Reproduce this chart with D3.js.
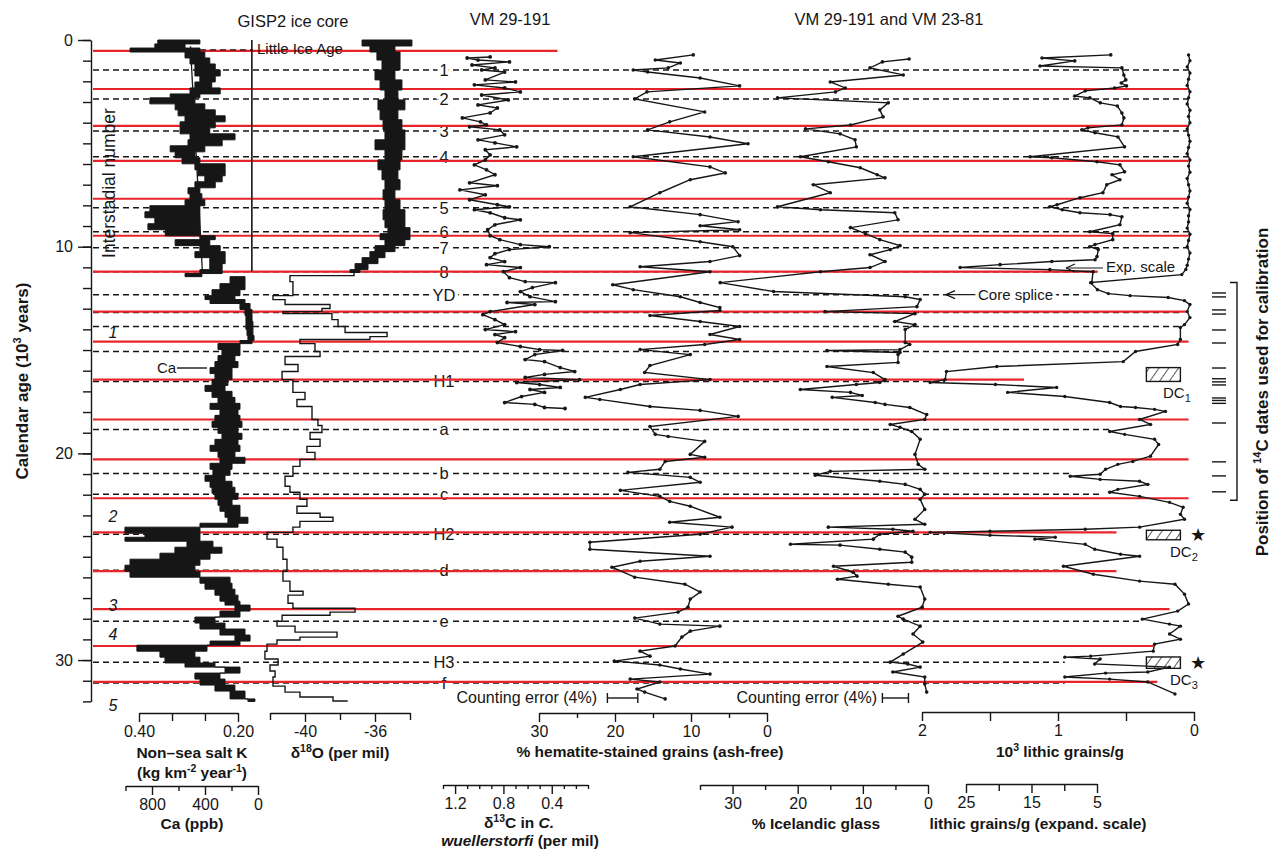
<!DOCTYPE html>
<html>
<head>
<meta charset="utf-8">
<script src="https://cdn.jsdelivr.net/npm/d3@7"></script>
<style>
  body { margin: 0; background: #fff; }
  svg { font-family: "Liberation Sans", Arial, Helvetica, sans-serif; }
</style>
</head>
<body>
<div id="wrapper"></div>
<script>
// ---------- data (ages in 10^3 years) ----------
// horizontal marker lines
const redAges = [0.53, 2.37, 4.15, 5.85, 7.68, 9.47, 11.21, 13.14, 14.59, 16.43, 18.36, 20.29, 22.17, 23.82, 25.70, 27.54, 29.32, 31.06];
const redEnd  = [4.68, 0.04, 0.04, 0.04, 0.04, 0.04, 0.71, 0.06, 0.04, 1.25, 0.04, 0.04, 0.04, 0.57, 0.57, 0.18, 0.30, 0.27]; // in 10^3 lithic grains/g
const dashAges   = [1.45, 2.85, 4.40, 5.65, 8.12, 9.28, 10.05, 11.21, 12.32, 13.19, 13.86, 15.07, 16.52, 18.84, 20.97, 21.98, 23.91, 25.65, 28.12, 30.10, 31.11];
const dashLabels = ["1", "2", "3", "4", "5", "6", "7", "8", "YD", "", "", "", "H1", "a", "b", "c", "H2", "d", "e", "H3", "f"];
const dashEnd    = [0.04, 0.04, 0.04, 0.04, 0.04, 0.04, 0.04, 0.71, 0.76, 0.10, 0.08, 0.45, 1.83, 0.62, 0.91, 0.69, 1.83, 0.96, 0.40, 0.95, 0.95];
const isLabels = ["1", "2", "3", "4", "5"];
const isAges   = [14.2, 23.1, 27.4, 28.8, 32.2];
const c14Ages  = [12.24, 12.43, 13.06, 13.26, 14.03, 14.66, 15.87, 16.39, 16.54, 16.69, 17.32, 17.44, 17.58, 18.53, 20.41, 21.09, 21.86];

// GISP2 non-sea salt K, Holocene  [age, left, right]
const kBand = [[0.0,0.362,0.277],[0.19,0.368,0.307],[0.39,0.418,0.277],[0.58,0.307,0.267],[0.87,0.297,0.257],[1.16,0.287,0.246],[1.45,0.287,0.236],[1.74,0.277,0.246],[2.03,0.287,0.253],[2.32,0.297,0.236],[2.61,0.337,0.277],[2.80,0.378,0.287],[3.09,0.327,0.267],[3.38,0.321,0.246],[3.67,0.307,0.226],[3.96,0.317,0.246],[4.25,0.317,0.257],[4.54,0.297,0.206],[4.83,0.301,0.232],[5.12,0.337,0.267],[5.41,0.327,0.287],[5.70,0.313,0.277],[5.99,0.287,0.226],[6.28,0.281,0.226],[6.57,0.267,0.232],[6.86,0.287,0.246],[7.15,0.301,0.277],[7.44,0.297,0.273],[7.73,0.307,0.267],[8.02,0.378,0.277],[8.31,0.388,0.277],[8.60,0.368,0.277],[8.89,0.382,0.277],[9.18,0.347,0.277],[9.47,0.277,0.246],[9.66,0.327,0.257],[9.95,0.277,0.236],[10.24,0.287,0.226],[10.53,0.257,0.226],[10.82,0.257,0.232],[11.11,0.277,0.232],[11.30,0.307,0.273],[11.45,0.307,0.273]];
const kTrend = [[0.3, 0.296], [11.2, 0.272]];
const kFrame = [[0.0, 0.172], [11.2, 0.172]];
// GISP2 Ca (ppb), glacial  [age, left, right]
const caBand = [[11.45,211,98],[11.79,287,98],[12.08,347,136],[12.37,400,174],[12.56,362,98],[12.75,136,60],[13.04,98,45],[13.33,91,45],[13.62,91,38],[14.01,83,38],[14.30,76,30],[14.54,136,45],[14.69,302,136],[14.98,272,136],[15.27,302,174],[15.56,325,151],[15.85,362,196],[16.14,325,196],[16.43,347,227],[16.71,400,249],[17.00,347,196],[17.29,302,174],[17.58,362,136],[17.87,287,151],[18.16,325,136],[18.45,347,121],[18.74,302,151],[19.03,272,121],[19.32,325,151],[19.61,362,136],[19.90,302,174],[20.19,287,98],[20.48,362,196],[20.77,340,211],[21.06,400,249],[21.35,362,196],[21.64,347,174],[21.93,325,151],[22.22,302,196],[22.51,287,136],[22.80,249,136],[23.09,227,76],[23.38,438,151],[23.57,1004,438],[23.86,853,438],[24.06,1004,438],[24.25,536,340],[24.54,627,272],[24.83,740,362],[25.12,966,438],[25.41,1004,476],[25.70,966,438],[25.99,438,211],[26.28,400,196],[26.57,325,174],[26.86,287,151],[27.15,249,136],[27.34,174,60],[27.63,287,136],[27.92,476,325],[28.21,438,249],[28.50,287,98],[28.79,174,60],[29.08,362,136],[29.28,914,385],[29.57,740,476],[29.86,702,438],[30.14,551,325],[30.34,249,136],[30.63,476,287],[30.92,438,249],[31.21,325,174],[31.50,211,98],[31.88,76,23],[32.0,45,23]];

// GISP2 d18O (per mil): Holocene band [age, left, right] and glacial steps [age, value]
const o18Band = [[0.0,-36.74,-33.89],[0.29,-36.29,-34.86],[0.58,-35.89,-34.57],[0.97,-35.6,-34.57],[1.45,-36.0,-34.86],[1.93,-35.71,-34.46],[2.42,-35.43,-34.69],[2.90,-35.83,-34.29],[3.38,-35.71,-34.69],[3.86,-35.54,-34.46],[4.35,-35.43,-34.29],[4.83,-36.0,-34.29],[5.31,-35.43,-34.46],[5.80,-35.83,-34.57],[6.28,-35.6,-34.69],[6.76,-35.43,-34.57],[7.25,-35.54,-34.86],[7.73,-35.43,-34.57],[8.21,-35.54,-34.29],[8.70,-35.43,-34.29],[9.08,-35.26,-34.0],[9.37,-35.71,-34.0],[9.66,-35.43,-34.29],[9.95,-36.0,-34.86],[10.24,-36.29,-35.43],[10.53,-36.74,-35.83],[10.82,-37.14,-36.4],[11.11,-37.43,-36.86],[11.25,-37.43,-36.86]];
const o18 = [[11.25,-37.2],[11.40,-40.86],[11.69,-40.69],[12.08,-40.69],[12.37,-41.83],[12.56,-41.14],[12.80,-38.57],[12.99,-39.03],[13.14,-41.26],[13.24,-38.46],[13.53,-38.11],[13.86,-37.71],[14.15,-35.31],[14.35,-36.29],[14.49,-40.29],[14.69,-39.43],[15.07,-39.14],[15.31,-41.14],[15.70,-40.40],[16.04,-41.31],[16.43,-40.69],[17.05,-40.0],[17.39,-40.46],[17.73,-39.6],[18.36,-39.26],[18.65,-39.03],[18.99,-39.71],[19.32,-39.14],[19.66,-39.89],[19.95,-39.43],[20.29,-40.29],[20.63,-40.69],[21.11,-41.14],[21.59,-40.86],[21.88,-40.29],[22.22,-39.89],[22.56,-40.46],[22.90,-39.14],[23.09,-38.4],[23.29,-40.29],[23.57,-40.69],[23.82,-42.17],[24.15,-41.6],[24.54,-41.26],[25.12,-41.03],[25.70,-41.26],[26.18,-40.86],[26.67,-40.11],[26.86,-40.97],[27.25,-40.69],[27.49,-37.14],[27.68,-38.57],[27.83,-41.31],[28.12,-41.6],[28.36,-40.57],[28.65,-38.17],[28.89,-40.29],[29.03,-41.6],[29.23,-42.17],[29.57,-42.29],[29.95,-41.54],[30.24,-42.0],[30.53,-41.71],[30.82,-41.83],[31.26,-41.14],[31.55,-40.29],[31.79,-38.4],[31.98,-37.6],[32.02,-37.6]];

// VM 29-191 d13C in C. wuellerstorfi (per mil)
const c13 = [[0.82,0.91],[0.87,1.10],[0.97,1.01],[1.06,0.75],[1.21,1.06],[1.35,0.87],[1.45,0.98],[1.55,0.79],[1.93,0.95],[2.03,0.70],[2.17,1.04],[2.32,0.79],[2.51,0.66],[2.66,0.98],[2.90,0.76],[3.14,1.01],[3.29,0.85],[3.53,0.91],[3.77,1.14],[3.96,0.99],[4.11,0.94],[4.20,1.08],[4.35,0.83],[4.59,0.79],[4.83,1.01],[4.98,0.87],[5.17,0.69],[5.31,0.95],[5.56,0.91],[5.80,0.95],[6.04,1.04],[6.28,0.94],[6.52,0.87],[6.91,1.08],[7.05,0.85],[7.25,1.16],[7.49,0.95],[7.73,1.08],[7.97,0.85],[8.07,0.75],[8.21,1.04],[8.36,0.91],[8.60,0.79],[8.70,0.66],[8.94,0.87],[9.18,0.93],[9.47,0.91],[9.66,0.83],[9.90,0.66],[10.00,0.42],[10.14,0.75],[10.34,0.87],[10.53,0.91],[10.72,0.79],[10.87,0.94],[11.01,0.66],[11.21,0.80],[11.50,0.75],[11.69,0.62],[11.74,0.37],[11.98,0.56],[12.17,0.66],[12.42,0.58],[12.66,0.37],[12.70,0.77],[12.80,0.54],[13.14,0.91],[13.29,0.97],[13.53,0.87],[13.77,0.79],[14.01,0.95],[14.11,0.70],[14.25,0.87],[14.40,0.79],[14.64,0.85],[14.83,0.66],[14.98,0.50],[15.02,0.31],[15.22,0.54],[15.46,0.62],[15.56,0.46],[15.85,0.33],[16.04,0.21],[16.18,0.46],[16.33,0.62],[16.43,0.17],[16.57,0.69],[16.67,0.50],[16.81,0.33],[16.91,0.58],[17.05,0.46],[17.25,0.65],[17.54,0.79],[17.63,0.54],[17.78,0.46],[17.83,0.29]];

// % hematite-stained grains (ash-free)
const hematite = [[0.72,9.7],[0.97,14.7],[1.11,11.4],[1.35,13.0],[1.45,17.6],[1.55,15.7],[1.84,8.8],[2.22,3.6],[2.51,15.8],[2.85,17.4],[3.48,8.2],[3.96,12.8],[4.35,15.7],[4.69,7.5],[5.02,2.5],[5.65,17.6],[6.14,7.5],[6.43,5.5],[6.76,10.1],[7.39,14.1],[8.07,18.0],[8.45,8.8],[8.79,3.8],[8.99,8.8],[9.18,3.6],[9.32,18.0],[9.76,8.8],[10.0,4.5],[10.43,3.6],[10.72,7.5],[10.97,16.7],[11.21,7.5],[11.84,20.3],[12.08,17.6],[12.42,11.4],[12.70,8.8],[12.95,6.2],[13.09,6.2],[13.33,15.4],[13.62,8.8],[13.86,3.6],[14.25,7.5],[14.49,3.6],[14.73,8.2],[14.98,16.7],[15.22,10.1],[15.75,15.4],[16.09,16.1],[16.43,7.5],[16.67,16.7],[16.91,19.3],[17.29,23.9],[17.39,22.0],[17.73,15.4],[17.92,8.8],[18.21,3.8],[18.70,15.4],[19.08,14.7],[19.18,13.0],[19.42,8.2],[20.05,10.1],[20.19,8.2],[20.39,13.4],[20.77,14.1],[20.92,18.3],[21.16,10.1],[21.40,8.8],[21.79,19.3],[22.08,14.1],[22.32,12.8],[22.56,10.1],[23.09,6.2],[23.33,12.8],[23.57,4.6],[23.91,8.8],[24.30,23.3],[24.64,23.3],[24.98,7.5],[25.22,16.7],[25.51,20.4],[25.99,17.4],[26.33,10.8],[26.71,8.8],[27.05,10.1],[27.44,10.4],[27.68,11.7],[27.97,17.4],[28.26,14.1],[28.36,6.2],[28.60,10.1],[28.89,11.2],[29.32,12.1],[29.57,16.7],[29.81,15.4],[30.05,20.1],[30.24,14.1],[30.43,11.4],[30.68,7.5],[30.92,18.0],[31.06,14.1],[31.40,17.1],[31.55,16.1],[31.88,13.4]];

// % Icelandic glass
const glass = [[0.92,2.9],[1.06,7.0],[1.35,8.9],[1.69,3.8],[2.03,15.0],[2.32,12.7],[2.51,14.2],[2.80,23.1],[3.04,6.1],[3.38,7.4],[3.72,6.9],[4.11,11.9],[4.30,18.8],[4.54,13.5],[4.83,11.2],[5.17,11.0],[5.65,19.6],[5.89,15.3],[6.18,10.4],[6.52,7.8],[6.67,6.6],[7.00,17.6],[7.39,15.0],[8.07,23.1],[8.21,16.5],[8.36,5.1],[8.70,4.6],[9.08,11.9],[9.37,9.6],[9.66,7.4],[9.95,4.3],[10.14,5.8],[10.39,8.9],[10.72,6.6],[11.01,8.9],[11.21,16.5],[11.74,31.9],[12.17,23.7],[12.42,3.5],[12.56,1.2],[12.90,1.7],[13.14,15.8],[13.24,2.0],[13.62,5.1],[13.77,2.0],[14.01,3.5],[14.64,3.5],[14.73,2.8],[14.98,4.3],[15.02,15.5],[15.12,4.3],[15.22,4.6],[15.60,4.6],[15.80,15.5],[16.09,8.4],[16.43,6.6],[16.57,7.4],[16.67,11.0],[16.91,19.6],[17.05,11.9],[17.20,10.1],[17.29,14.7],[17.54,8.1],[17.63,6.6],[17.78,2.8],[18.12,0.2],[18.36,0.5],[18.60,5.8],[18.74,4.3],[18.94,2.5],[19.32,1.2],[20.05,2.0],[20.53,1.5],[20.77,0.5],[20.87,15.0],[21.06,17.3],[21.35,7.4],[21.50,3.5],[21.74,1.2],[21.98,0.5],[22.22,1.2],[22.71,0.5],[23.19,2.0],[23.43,0.5],[23.57,15.3],[23.67,5.4],[23.77,2.3],[23.91,7.4],[24.15,8.4],[24.40,21.1],[24.44,13.5],[24.64,7.4],[24.78,3.5],[25.02,2.5],[25.27,2.5],[25.46,14.5],[25.75,11.5],[25.94,10.9],[26.09,13.9],[26.33,6.1],[26.47,1.2],[27.05,0.5],[27.44,0.9],[27.88,4.6],[28.02,3.8],[28.36,1.2],[28.74,2.3],[29.13,0.8],[29.71,3.8],[30.10,5.8],[30.19,3.1],[30.34,1.2],[30.58,5.4],[30.82,0.5],[31.16,0.5],[31.55,0.2]];

// 10^3 lithic grains/g
const lithic = [[0.72,0.04],[1.0,0.03],[1.3,0.05],[1.6,0.03],[1.9,0.04],[2.2,0.05],[2.5,0.03],[2.8,0.04],[3.1,0.05],[3.4,0.03],[3.7,0.04],[4.0,0.03],[4.3,0.05],[4.6,0.04],[4.9,0.03],[5.2,0.04],[5.5,0.05],[5.8,0.03],[6.1,0.04],[6.4,0.03],[6.7,0.05],[7.0,0.04],[7.3,0.03],[7.6,0.04],[7.9,0.05],[8.2,0.03],[8.5,0.04],[8.8,0.04],[9.1,0.05],[9.4,0.03],[9.7,0.04],[10.0,0.05],[10.3,0.03],[10.6,0.04],[10.9,0.05],[11.1,0.06],[11.35,0.09],[11.74,0.76],[12.08,0.71],[12.27,0.63],[12.37,0.47],[12.46,0.19],[12.61,0.07],[12.80,0.03],[13.14,0.05],[13.43,0.03],[13.77,0.07],[13.91,0.10],[14.49,0.10],[14.73,0.12],[15.07,0.43],[15.56,0.52],[15.80,1.45],[16.04,1.82],[16.43,1.83],[16.57,1.94],[16.67,1.46],[16.81,1.01],[17.05,1.37],[17.25,0.95],[17.54,0.62],[17.73,0.54],[17.78,0.43],[17.87,0.29],[17.97,0.21],[18.36,0.40],[18.60,0.32],[18.94,0.62],[19.08,0.51],[19.32,0.29],[19.57,0.26],[20.14,0.32],[20.39,0.45],[20.53,0.56],[20.77,0.65],[21.01,0.69],[21.11,0.91],[21.26,0.69],[21.35,0.40],[21.50,0.34],[21.74,0.56],[21.88,0.62],[22.08,0.40],[22.37,0.18],[22.61,0.08],[22.95,0.10],[23.19,0.07],[23.57,0.40],[23.67,0.80],[23.77,1.50],[23.82,1.94],[23.96,1.50],[24.06,1.02],[24.15,1.17],[24.40,0.80],[24.64,0.73],[24.88,0.54],[24.98,0.40],[25.46,0.96],[25.85,0.74],[26.18,0.40],[26.33,0.14],[26.81,0.07],[27.29,0.04],[27.63,0.12],[28.02,0.38],[28.26,0.18],[28.36,0.10],[28.74,0.18],[28.99,0.10],[29.23,0.29],[29.57,0.30],[29.81,0.76],[29.86,0.95],[29.95,0.69],[30.19,0.73],[30.34,0.18],[30.58,0.34],[30.63,0.65],[30.82,0.95],[30.92,0.62],[31.06,0.34],[31.64,0.14]];

// lithic grains/g, expanded scale (Holocene)
const lithicExp = [[0.72,2.9],[0.87,13.4],[1.01,8.4],[1.26,13.7],[1.35,1.2],[1.69,0.9],[1.93,0.6],[2.08,1.3],[2.22,0.5],[2.32,2.3],[2.46,6.8],[2.71,8.4],[2.80,6.1],[3.04,4.5],[3.19,1.9],[3.53,1.2],[3.77,0.9],[4.11,1.2],[4.25,6.4],[4.35,7.3],[4.49,5.3],[4.69,1.8],[5.17,0.8],[5.65,15.2],[5.70,11.9],[5.89,5.0],[6.04,1.5],[6.38,0.8],[6.52,2.7],[6.76,1.5],[7.00,3.5],[7.39,4.1],[7.63,7.6],[7.97,11.1],[8.07,12.2],[8.21,10.3],[8.36,7.6],[8.45,3.0],[8.55,1.2],[8.94,1.5],[9.28,6.1],[9.37,2.6],[9.66,2.6],[9.90,5.3],[10.0,6.1],[10.14,4.8],[10.48,5.0],[10.63,5.3],[10.72,11.9],[10.87,19.8],[11.01,25.9],[11.11,12.2],[11.21,5.6],[11.74,5.8]];

// ---------- scales ----------
const y = d3.scaleLinear().domain([0, 32]).range([40, 701.4]);
const xK = d3.scaleLinear().domain([0.40, 0.20]).range([139, 238]);
const xCa = d3.scaleLinear().domain([1000, 0]).range([125.5, 258]);
const xO = d3.scaleLinear().domain([-42, -34]).range([270, 410]);
const xC13 = d3.scaleLinear().domain([1.3, 0.1]).range([443, 588]);
const xHem = d3.scaleLinear().domain([30, 0]).range([539, 767]);
const xGlass = d3.scaleLinear().domain([35, 0]).range([700, 928]);
const xLith = d3.scaleLinear().domain([2, 0]).range([922, 1194]);
const xExp = d3.scaleLinear().domain([25, 5]).range([966, 1097]);

const ink = "#161616";
const red = "#e8242b";
const X0 = 93;

const svg = d3.select("#wrapper").append("svg")
  .attr("width", 1279).attr("height", 853);

const defs = svg.append("defs");
defs.append("pattern").attr("id", "hatch").attr("patternUnits", "userSpaceOnUse")
  .attr("width", 8).attr("height", 8).attr("patternTransform", "rotate(35)")
  .append("line").attr("x1", 0).attr("y1", 0).attr("x2", 0).attr("y2", 8)
  .attr("stroke", ink).attr("stroke-width", 1.4);

// ---------- dashed interstadial / Heinrich lines ----------
svg.append("g").selectAll("line").data(dashAges).join("line")
  .attr("x1", X0).attr("x2", (d, i) => xLith(dashEnd[i]))
  .attr("y1", d => y(d)).attr("y2", d => y(d))
  .attr("stroke", ink).attr("stroke-width", 1.5).attr("stroke-dasharray", "6,4");

svg.append("g").selectAll("text").data(dashLabels).join("text")
  .attr("x", 444).attr("y", (d, i) => y(dashAges[i]) + 6)
  .attr("text-anchor", "middle").attr("font-size", 16.5).attr("fill", ink)
  .attr("stroke", "#fff").attr("stroke-width", 7).attr("paint-order", "stroke")
  .text(d => d);

// annotation on the YD line
const splice = svg.append("g");
splice.append("text").attr("x", 978).attr("y", y(12.32) + 5).attr("font-size", 15).attr("fill", ink)
  .attr("stroke", "#fff").attr("stroke-width", 7).attr("paint-order", "stroke").text("Core splice");
splice.append("line").attr("x1", 975).attr("x2", 948).attr("y1", y(12.32)).attr("y2", y(12.32))
  .attr("stroke", "#fff").attr("stroke-width", 6);
splice.append("line").attr("x1", 975).attr("x2", 946).attr("y1", y(12.32)).attr("y2", y(12.32))
  .attr("stroke", ink).attr("stroke-width", 1.2);
splice.append("path").attr("d", `M946,${y(12.32)} l9,-4 M946,${y(12.32)} l9,4`)
  .attr("stroke", ink).attr("stroke-width", 1.2).attr("fill", "none");

// ---------- red lines ----------
svg.append("g").selectAll("line").data(redAges).join("line")
  .attr("x1", X0).attr("x2", (d, i) => xLith(redEnd[i]))
  .attr("y1", d => y(d)).attr("y2", d => y(d))
  .attr("stroke", red).attr("stroke-width", 2.2);

// ---------- axes ----------
function styleAxis(g) {
  g.attr("font-family", null).attr("font-size", null);
  g.selectAll("path, line").attr("stroke", ink).attr("stroke-width", 1.4);
  g.selectAll("text").attr("font-size", 16).attr("fill", ink);
}
function bottomAxis(scale, yPos, minorVals, majorVals, fmt, minorSize) {
  const g = svg.append("g").attr("transform", `translate(0,${yPos})`);
  g.call(d3.axisBottom(scale).tickValues(minorVals).tickSize(minorSize || 5).tickSizeOuter(0).tickFormat(""));
  styleAxis(g);
  const g2 = svg.append("g").attr("transform", `translate(0,${yPos})`);
  g2.call(d3.axisBottom(scale).tickValues(majorVals).tickSize(9).tickSizeOuter(0).tickPadding(4).tickFormat(fmt));
  g2.select(".domain").remove();
  styleAxis(g2);
}
const plain = d => String(d);
bottomAxis(xK, 713, [0.3333, 0.2667], [0.40, 0.20], d3.format(".2f"), 8);
bottomAxis(xCa, 786, [1000, 600, 200], [800, 400, 0], plain);
bottomAxis(xO, 713, [-42, -38, -34], [-40, -36], plain, 7);
bottomAxis(xC13, 785, [1.3, 1.1, 1.0, 0.9, 0.7, 0.6, 0.5, 0.3, 0.2, 0.1], [1.2, 0.8, 0.4], d3.format(".1f"), 4);
bottomAxis(xHem, 713, [25, 15, 5], [30, 20, 10, 0], plain);
bottomAxis(xGlass, 785, [35, 25, 15, 5], [30, 20, 10, 0], plain);
bottomAxis(xLith, 712, [1.5, 0.5], [2, 1, 0], plain, 9);
bottomAxis(xExp, 784, [20, 10], [25, 15, 5], plain, 7);

const gy = svg.append("g").attr("transform", `translate(91,0)`);
gy.call(d3.axisLeft(y).tickValues(d3.range(0, 33)).tickSize(8).tickSizeOuter(0).tickFormat(""));
styleAxis(gy);
const gy2 = svg.append("g").attr("transform", `translate(91,0)`);
gy2.call(d3.axisLeft(y).tickValues([0, 10, 20, 30]).tickSize(13).tickSizeOuter(0).tickPadding(5).tickFormat(d3.format("d")));
gy2.select(".domain").remove();
styleAxis(gy2);

// ---------- curves ----------
const band = (sx) => d3.area().curve(d3.curveStepBefore)
  .y(d => y(d[0])).x0(d => sx(d[1])).x1(d => sx(d[2]));
const step = (sx) => d3.line().curve(d3.curveStepBefore).x(d => sx(d[1])).y(d => y(d[0]));
const lin = (sx) => d3.line().x(d => sx(d[1])).y(d => y(d[0]));

svg.append("path").attr("d", lin(xK)(kFrame)).attr("stroke", ink).attr("stroke-width", 1.6).attr("fill", "none");
svg.append("path").attr("d", lin(xK)(kTrend)).attr("stroke", ink).attr("stroke-width", 1.3).attr("fill", "none");
svg.append("path").attr("d", band(xK)(kBand)).attr("fill", ink).attr("stroke", ink).attr("stroke-width", 1);
svg.append("path").attr("d", band(xCa)(caBand)).attr("fill", ink).attr("stroke", ink).attr("stroke-width", 1);
svg.append("path").attr("d", band(xO)(o18Band)).attr("fill", ink).attr("stroke", ink).attr("stroke-width", 1);
svg.append("path").attr("d", step(xO)(o18)).attr("fill", "none").attr("stroke", ink).attr("stroke-width", 1.4);

function dotted(data, sx, r) {
  svg.append("path").attr("d", lin(sx)(data)).attr("fill", "none").attr("stroke", ink).attr("stroke-width", 1.4);
  svg.append("g").selectAll("circle").data(data).join("circle")
    .attr("cx", d => sx(d[1])).attr("cy", d => y(d[0])).attr("r", r).attr("fill", ink);
}
dotted(c13, xC13, 1.9);
dotted(hematite, xHem, 1.8);
dotted(glass, xGlass, 1.8);
dotted(lithic, xLith, 1.7);
dotted(lithicExp, xExp, 1.8);

// ---------- titles and labels ----------
function txt(x, yy, s, size, opts) {
  const t = svg.append("text").attr("x", x).attr("y", yy).attr("font-size", size).attr("fill", ink).text(s);
  if (opts) Object.entries(opts).forEach(([k, v]) => t.attr(k, v));
  return t;
}
txt(293, 27, "GISP2 ice core", 16.5, {"text-anchor": "middle"});
txt(510, 25, "VM 29-191", 16.5, {"text-anchor": "middle"});
txt(889, 25, "VM 29-191 and VM 23-81", 16.5, {"text-anchor": "middle"});

// left axis title
const yt = svg.append("text").attr("transform", "translate(28,381) rotate(-90)")
  .attr("text-anchor", "middle").attr("font-size", 17).attr("font-weight", "bold").attr("fill", ink);
yt.append("tspan").text("Calendar age (10");
yt.append("tspan").attr("font-size", 11).attr("dy", -7).text("3");
yt.append("tspan").attr("dy", 7).text(" years)");

svg.append("text").attr("transform", "translate(115,183) rotate(-90)")
  .attr("text-anchor", "middle").attr("font-size", 17.5).attr("fill", ink).text("Interstadial number");

svg.append("g").selectAll("text").data(isLabels).join("text")
  .attr("x", 113).attr("y", (d, i) => y(isAges[i]) + 5).attr("text-anchor", "middle")
  .attr("font-size", 16).attr("font-style", "italic").attr("fill", ink).text(d => d);

// Little Ice Age
svg.append("line").attr("x1", 200).attr("x2", 253).attr("y1", y(0.48)).attr("y2", y(0.48))
  .attr("stroke", ink).attr("stroke-width", 1.4).attr("stroke-dasharray", "6,4");
txt(257, 54, "Little Ice Age", 15);

// Ca label
txt(157, 373, "Ca", 15);
svg.append("line").attr("x1", 177).attr("x2", 207).attr("y1", 368).attr("y2", 368).attr("stroke", ink).attr("stroke-width", 1.4);

// Exp. scale
txt(1106, 272, "Exp. scale", 15);
svg.append("line").attr("x1", 1103).attr("x2", 1066).attr("y1", 268).attr("y2", 268).attr("stroke", ink).attr("stroke-width", 1.2);
svg.append("path").attr("d", "M1066,268 l9,-4 M1066,268 l9,4").attr("stroke", ink).attr("stroke-width", 1.2).attr("fill", "none");

// counting error bars
function errBar(sx, a, b, yy) {
  const g = svg.append("g").attr("stroke", ink).attr("stroke-width", 1.4);
  g.append("line").attr("x1", sx(a)).attr("x2", sx(b)).attr("y1", yy).attr("y2", yy);
  g.append("line").attr("x1", sx(a)).attr("x2", sx(a)).attr("y1", yy - 5).attr("y2", yy + 5);
  g.append("line").attr("x1", sx(b)).attr("x2", sx(b)).attr("y1", yy - 5).attr("y2", yy + 5);
}
txt(597, 703, "Counting error (4%)", 16, {"text-anchor": "end"});
errBar(xHem, 21, 17, 698);
txt(877, 703, "Counting error (4%)", 16, {"text-anchor": "end"});
errBar(xGlass, 7, 3, 698);

// DC boxes
const dcBoxes = [[15.85, 16.52, "1"], [23.72, 24.18, "2"], [29.85, 30.40, "3"]];
dcBoxes.forEach(([a, b, n], i) => {
  svg.append("rect").attr("x", xLith(0.35)).attr("width", xLith(0.10) - xLith(0.35))
    .attr("y", y(a)).attr("height", y(b) - y(a))
    .attr("fill", "url(#hatch)").attr("stroke", ink).attr("stroke-width", 1.4);
  const t = svg.append("text").attr("x", i ? 1170 : 1163).attr("y", y(b) + 17).attr("font-size", 15).attr("fill", ink);
  t.append("tspan").text("DC");
  t.append("tspan").attr("font-size", 11).attr("dy", 4).text(n);
  if (i > 0) {
    svg.append("text").attr("x", 1198).attr("y", y((a + b) / 2) + 6).attr("text-anchor", "middle")
      .attr("font-family", "DejaVu Sans").attr("font-size", 18).attr("fill", ink).text("\u2605");
  }
});

// 14C date positions with bracket
svg.append("g").selectAll("line").data(c14Ages).join("line")
  .attr("x1", 1212).attr("x2", 1226).attr("y1", d => y(d)).attr("y2", d => y(d))
  .attr("stroke", ink).attr("stroke-width", 1.4);
svg.append("path").attr("d", `M1230,${y(11.73)} H1237 V${y(22.27)} H1230`)
  .attr("stroke", ink).attr("stroke-width", 1.4).attr("fill", "none");
const pt = svg.append("text").attr("transform", "translate(1268,392) rotate(-90)")
  .attr("text-anchor", "middle").attr("font-size", 17).attr("font-weight", "bold").attr("fill", ink);
pt.append("tspan").text("Position of ");
pt.append("tspan").attr("font-size", 11).attr("dy", -7).text("14");
pt.append("tspan").attr("dy", 7).text("C dates used for calibration");

// bottom axis titles
const bold = {"text-anchor": "middle", "font-weight": "bold"};
txt(192, 758, "Non\u2013sea salt K", 15.5, bold);
const ku = svg.append("text").attr("x", 192).attr("y", 778).attr("text-anchor", "middle")
  .attr("font-size", 15.5).attr("font-weight", "bold").attr("fill", ink);
ku.append("tspan").text("(kg km");
ku.append("tspan").attr("font-size", 10.5).attr("dy", -6).text("-2");
ku.append("tspan").attr("dy", 6).text(" year");
ku.append("tspan").attr("font-size", 10.5).attr("dy", -6).text("-1");
ku.append("tspan").attr("dy", 6).text(")");
txt(192, 829, "Ca (ppb)", 15.5, bold);

const ol = svg.append("text").attr("x", 340).attr("y", 758).attr("text-anchor", "middle")
  .attr("font-size", 15.5).attr("font-weight", "bold").attr("fill", ink);
ol.append("tspan").text("\u03b4");
ol.append("tspan").attr("font-size", 10.5).attr("dy", -6).text("18");
ol.append("tspan").attr("dy", 6).text("O (per mil)");

const cl = svg.append("text").attr("x", 519).attr("y", 828).attr("text-anchor", "middle")
  .attr("font-size", 15.5).attr("font-weight", "bold").attr("fill", ink);
cl.append("tspan").text("\u03b4");
cl.append("tspan").attr("font-size", 10.5).attr("dy", -6).text("13");
cl.append("tspan").attr("dy", 6).text("C in ");
cl.append("tspan").attr("font-style", "italic").text("C.");
const cl2 = svg.append("text").attr("x", 520).attr("y", 846).attr("text-anchor", "middle")
  .attr("font-size", 15.5).attr("font-weight", "bold").attr("fill", ink);
cl2.append("tspan").attr("font-style", "italic").text("wuellerstorfi");
cl2.append("tspan").text(" (per mil)");

txt(650, 757, "% hematite-stained grains (ash-free)", 15.5, bold);
txt(816, 829, "% Icelandic glass", 15.5, bold);
const ll = svg.append("text").attr("x", 1060).attr("y", 757).attr("text-anchor", "middle")
  .attr("font-size", 15.5).attr("font-weight", "bold").attr("fill", ink);
ll.append("tspan").text("10");
ll.append("tspan").attr("font-size", 10.5).attr("dy", -6).text("3");
ll.append("tspan").attr("dy", 6).text(" lithic grains/g");
txt(1038, 829, "lithic grains/g (expand. scale)", 15.5, bold);
</script>
</body>
</html>
